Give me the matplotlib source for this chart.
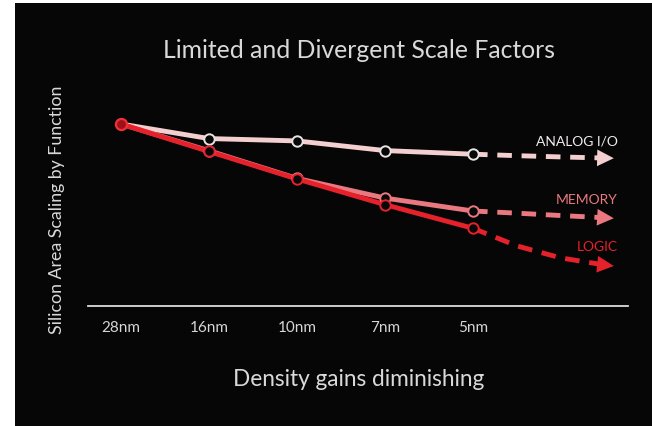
import matplotlib
matplotlib.use("Agg")
import matplotlib.pyplot as plt
from matplotlib.patches import Rectangle

plt.rcParams['font.family'] = ['Lato', 'DejaVu Sans']

# ---- data ----
nodes = ["28nm", "16nm", "10nm", "7nm", "5nm"]
node_idx = [0, 1, 2, 3, 4]

analog = [1.00, 0.920, 0.907, 0.854, 0.834]
memory = [1.00, 0.853, 0.701, 0.593, 0.522]
logic = [1.00, 0.849, 0.698, 0.557, 0.427]

# projected (dashed) continuations beyond 5nm
proj_x = [4, 4.5, 5.0, 5.5, 5.6]
analog_proj = [0.834, 0.826, 0.819, 0.813, 0.812]
memory_proj = [0.522, 0.510, 0.497, 0.485, 0.482]
logic_proj = [0.427, 0.330, 0.264, 0.225, 0.220]

series_names = ["ANALOG I/O", "MEMORY", "LOGIC"]
label_y = [0.912, 0.588, 0.330]

c_analog = "#f4cfd0"
c_memory = "#ea7880"
c_logic = "#e5212b"
colors = [c_analog, c_memory, c_logic]
label_colors = ["#f2ecec", c_memory, c_logic]

W, H = 652, 427
fig = plt.figure(figsize=(W / 100, H / 100), dpi=100)
fig.patch.set_facecolor("white")
# dark slide background
fig.add_artist(Rectangle((15 / W, 0), 1 - 15 / W, 1 - 4 / H,
                         transform=fig.transFigure, facecolor="#060606",
                         edgecolor="none", zorder=0))

ax_left, ax_right = 88, 628
ax_bottom, ax_top = 307, 107
ax = fig.add_axes([ax_left / W, (H - ax_bottom) / H,
                   (ax_right - ax_left) / W, (ax_bottom - ax_top) / H])
ax.set_facecolor("none")
ax.set_xlim((ax_left - 121) / 88, (ax_right - 121) / 88)
ax.set_ylim(0, (ax_bottom - ax_top) / 182)

for s in ["top", "right", "left"]:
    ax.spines[s].set_visible(False)
ax.spines["bottom"].set_color("#dcdcdc")
ax.spines["bottom"].set_linewidth(1.3)
ax.set_yticks([])
ax.set_xticks(node_idx)
ax.set_xticklabels(nodes)
ax.tick_params(axis="x", length=0, pad=10, labelsize=11, labelcolor="#d6d6d6")

lw = 3.5
solid = [analog, memory, logic]
proj = [analog_proj, memory_proj, logic_proj]
for vals, pv, c, z in zip(solid, proj, colors, [3, 4, 5]):
    ax.plot(node_idx, vals, color=c, lw=lw, solid_capstyle="butt", zorder=z,
            clip_on=False)
    ax.plot(proj_x[:-1], pv[:-1], color=c, lw=lw, ls=(0, (3.0, 2.0)),
            dash_capstyle="butt", zorder=z, clip_on=False)
    ax.annotate("", xy=(proj_x[-1], pv[-1]), xytext=(proj_x[-2], pv[-2]),
                arrowprops=dict(arrowstyle="-|>,head_length=1.0,head_width=0.5",
                                mutation_scale=12,
                                color=c, lw=0, shrinkA=0, shrinkB=0),
                zorder=z, annotation_clip=False)

# markers
ax.plot(node_idx[1:], analog[1:], ls="none", marker="o", ms=7.5,
        mfc="#080808", mec="#e8e2e2", mew=1.4, zorder=6, clip_on=False)
ax.plot(node_idx[1:], memory[1:], ls="none", marker="o", ms=7.5,
        mfc="#080808", mec=c_memory, mew=1.4, zorder=6, clip_on=False)
ax.plot(node_idx[1:], logic[1:], ls="none", marker="o", ms=7.5,
        mfc="#080808", mec=c_logic, mew=1.4, zorder=7, clip_on=False)
ax.plot(node_idx[:1], logic[:1], ls="none", marker="o", ms=8,
        mfc="#a01018", mec="#f03038", mew=1.6, zorder=8, clip_on=False)

# series labels
for name, y, c in zip(series_names, label_y, label_colors):
    ax.text((618 - 121) / 88, y, name, color=c,
            fontsize=10, ha="right", va="center", zorder=9)

fig.text(359 / W, 1 - 50 / H, "Limited and Divergent Scale Factors",
         ha="center", va="center", fontsize=17.8, color="#d9d9d9")
fig.text(57 / W, 1 - 210 / H, "Silicon Area Scaling by Function",
         ha="center", va="center", rotation=90, fontsize=12.8, color="#d9d9d9")
fig.text(359 / W, 1 - 380 / H, "Density gains diminishing",
         ha="center", va="center", fontsize=16.3, color="#d9d9d9")

fig.savefig("out.png", dpi=100, facecolor=fig.get_facecolor())
